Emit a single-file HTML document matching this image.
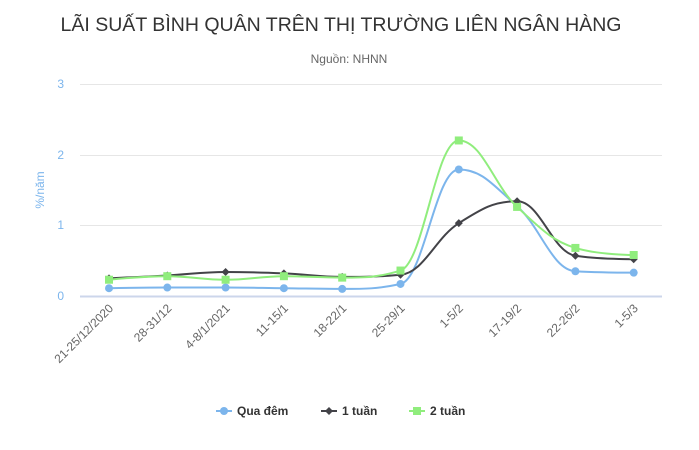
<!DOCTYPE html>
<html><head><meta charset="utf-8"><style>
body{margin:0;background:#fff;font-family:"Liberation Sans",sans-serif}
</style></head><body>
<svg id="s" width="699" height="445" xmlns="http://www.w3.org/2000/svg" font-family="Liberation Sans, sans-serif">
<text x="341" y="31" text-anchor="middle" font-size="19" fill="#333" textLength="561" lengthAdjust="spacingAndGlyphs">LÃI SUẤT BÌNH QUÂN TRÊN THỊ TRƯỜNG LIÊN NGÂN HÀNG</text>
<text x="349" y="63" text-anchor="middle" font-size="12" fill="#666">Nguồn: NHNN</text>
<g stroke="#e6e6e6" stroke-width="1">
<line x1="80" x2="662" y1="84.5" y2="84.5"/><line x1="80" x2="662" y1="155.5" y2="155.5"/><line x1="80" x2="662" y1="225.5" y2="225.5"/>
</g>
<line x1="80" x2="662" y1="296.5" y2="296.5" stroke="#ccd6eb" stroke-width="2"/>
<g font-size="12" fill="#7cb5ec" text-anchor="end">
<text x="64" y="300">0</text><text x="64" y="229">1</text><text x="64" y="159">2</text><text x="64" y="88">3</text>
</g>
<text transform="translate(44,190) rotate(-90)" text-anchor="middle" font-size="12" fill="#7cb5ec">%/năm</text>
<g id="xl" font-size="12" fill="#666" text-anchor="end"></g>
<g id="series"></g>
<g font-size="12" font-weight="bold" fill="#333">
<line x1="216" x2="232" y1="411" y2="411" stroke="#7cb5ec" stroke-width="2"/><circle cx="224" cy="411" r="4" fill="#7cb5ec"/>
<text x="237" y="415">Qua đêm</text>
<line x1="321" x2="337" y1="411" y2="411" stroke="#434348" stroke-width="2"/><path d="M329 407 L333 411 L329 415 L325 411Z" fill="#434348"/>
<text x="342" y="415">1 tuần</text>
<line x1="409" x2="425" y1="411" y2="411" stroke="#90ed7d" stroke-width="2"/><rect x="413" y="407" width="8" height="8" fill="#90ed7d"/>
<text x="430" y="415">2 tuần</text>
</g>
</svg>
<script>
var ns="http://www.w3.org/2000/svg";
var labels=["21-25/12/2020","28-31/12","4-8/1/2021","11-15/1","18-22/1","25-29/1","1-5/2","17-19/2","22-26/2","1-5/3"];
var X=function(i){return 109+58.3*i}, Y=function(v){return 296-v*70.7};
var xl=document.getElementById("xl");
labels.forEach(function(l,i){var t=document.createElementNS(ns,"text");t.setAttribute("transform","translate("+(X(i)+5)+",309) rotate(-45)");t.textContent=l;xl.appendChild(t);});
var data=[
 {c:"#7cb5ec",m:"c",v:[0.11,0.12,0.12,0.11,0.10,0.17,1.79,1.27,0.35,0.33]},
 {c:"#434348",m:"d",v:[0.25,0.29,0.34,0.32,0.27,0.30,1.03,1.34,0.57,0.52]},
 {c:"#90ed7d",m:"s",v:[0.23,0.28,0.23,0.28,0.26,0.36,2.20,1.26,0.68,0.58]}];
var g=document.getElementById("series");
function ctrl(p,i){
 var s=1.5,den=s+1,x=p[i][0],y=p[i][1],L=p[i-1],N=p[i+1];
 if(!L||!N) return [[x,y],[x,y]];
 var lx=(s*x+L[0])/den,ly=(s*y+L[1])/den,rx=(s*x+N[0])/den,ry=(s*y+N[1])/den;
 var corr=((ry-ly)*(rx-x))/(rx-lx)+y-ry; ly+=corr; ry+=corr;
 if(ly>L[1]&&ly>y){ly=Math.max(L[1],y);ry=2*y-ly;}else if(ly<L[1]&&ly<y){ly=Math.min(L[1],y);ry=2*y-ly;}
 if(ry>N[1]&&ry>y){ry=Math.max(N[1],y);ly=2*y-ry;}else if(ry<N[1]&&ry<y){ry=Math.min(N[1],y);ly=2*y-ry;}
 return [[lx,ly],[rx,ry]];
}
data.forEach(function(s){
 var p=s.v.map(function(v,i){return [X(i),Y(v)]});
 var C=p.map(function(_,i){return ctrl(p,i)});
 var d="M"+p[0][0]+" "+p[0][1];
 for(var i=0;i<p.length-1;i++){ d+=" C"+C[i][1]+" "+C[i+1][0]+" "+p[i+1]; }
 var path=document.createElementNS(ns,"path");path.setAttribute("d",d);path.setAttribute("fill","none");path.setAttribute("stroke",s.c);path.setAttribute("stroke-width","2");g.appendChild(path);
 p.forEach(function(q){var e;
  if(s.m=="c"){e=document.createElementNS(ns,"circle");e.setAttribute("cx",q[0]);e.setAttribute("cy",q[1]);e.setAttribute("r",4);}
  else if(s.m=="d"){e=document.createElementNS(ns,"path");e.setAttribute("d","M"+q[0]+" "+(q[1]-4)+" L"+(q[0]+4)+" "+q[1]+" L"+q[0]+" "+(q[1]+4)+" L"+(q[0]-4)+" "+q[1]+"Z");}
  else{e=document.createElementNS(ns,"rect");e.setAttribute("x",q[0]-4);e.setAttribute("y",q[1]-4);e.setAttribute("width",8);e.setAttribute("height",8);}
  e.setAttribute("fill",s.c);g.appendChild(e);});
});
</script>
</body></html>
